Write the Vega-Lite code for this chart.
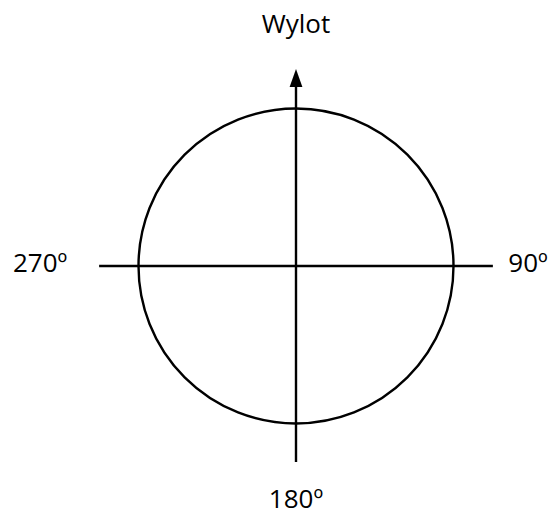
{
  "$schema": "https://vega.github.io/schema/vega-lite/v6.json",
  "width": 550,
  "height": 511,
  "padding": 0,
  "autosize": {"type": "none"},
  "background": "white",
  "config": {"view": {"stroke": null}},
  "datasets": {
    "circle": [{"x": 0, "y": 0}],
    "hline": [{"x": -1.25, "x2": 1.25, "y": 0, "y2": 0}],
    "vline": [{"x": 0, "x2": 0, "y": -1.245, "y2": 1.16}],
    "arrow": [{"x": 0, "y": 1.194}],
    "labels": [
      {"x": 0, "y": 1.479, "text": "Wylot"},
      {"x": -1.625, "y": -0.040, "text": "270º"},
      {"x": 1.473, "y": -0.040, "text": "90º"},
      {"x": 0, "y": -1.536, "text": "180º"}
    ]
  },
  "layer": [
    {
      "data": {"name": "hline"},
      "mark": {"type": "rule", "color": "black", "strokeWidth": 2.4},
      "encoding": {
        "x": {"field": "x", "type": "quantitative", "scale": {"domain": [-1.8794, 1.6127], "nice": false, "zero": false}, "axis": null},
        "x2": {"field": "x2"},
        "y": {"field": "y", "type": "quantitative", "scale": {"domain": [-1.5556, 1.6889], "nice": false, "zero": false}, "axis": null},
        "y2": {"field": "y2"}
      }
    },
    {
      "data": {"name": "vline"},
      "mark": {"type": "rule", "color": "black", "strokeWidth": 2.4},
      "encoding": {
        "x": {"field": "x", "type": "quantitative"},
        "x2": {"field": "x2"},
        "y": {"field": "y", "type": "quantitative"},
        "y2": {"field": "y2"}
      }
    },
    {
      "data": {"name": "circle"},
      "mark": {"type": "point", "shape": "circle", "filled": false, "stroke": "black", "strokeWidth": 2.4, "size": 99225, "opacity": 1},
      "encoding": {
        "x": {"field": "x", "type": "quantitative"},
        "y": {"field": "y", "type": "quantitative"}
      }
    },
    {
      "data": {"name": "arrow"},
      "mark": {"type": "point", "shape": "M0,-1L-0.71,1L0.71,1Z", "filled": true, "color": "black", "size": 324, "opacity": 1, "strokeWidth": 0},
      "encoding": {
        "x": {"field": "x", "type": "quantitative"},
        "y": {"field": "y", "type": "quantitative"}
      }
    },
    {
      "data": {"name": "labels"},
      "mark": {"type": "text", "font": "Open Sans", "fontSize": 26, "color": "black", "align": "center", "baseline": "alphabetic"},
      "encoding": {
        "x": {"field": "x", "type": "quantitative"},
        "y": {"field": "y", "type": "quantitative"},
        "text": {"field": "text"}
      }
    }
  ]
}
